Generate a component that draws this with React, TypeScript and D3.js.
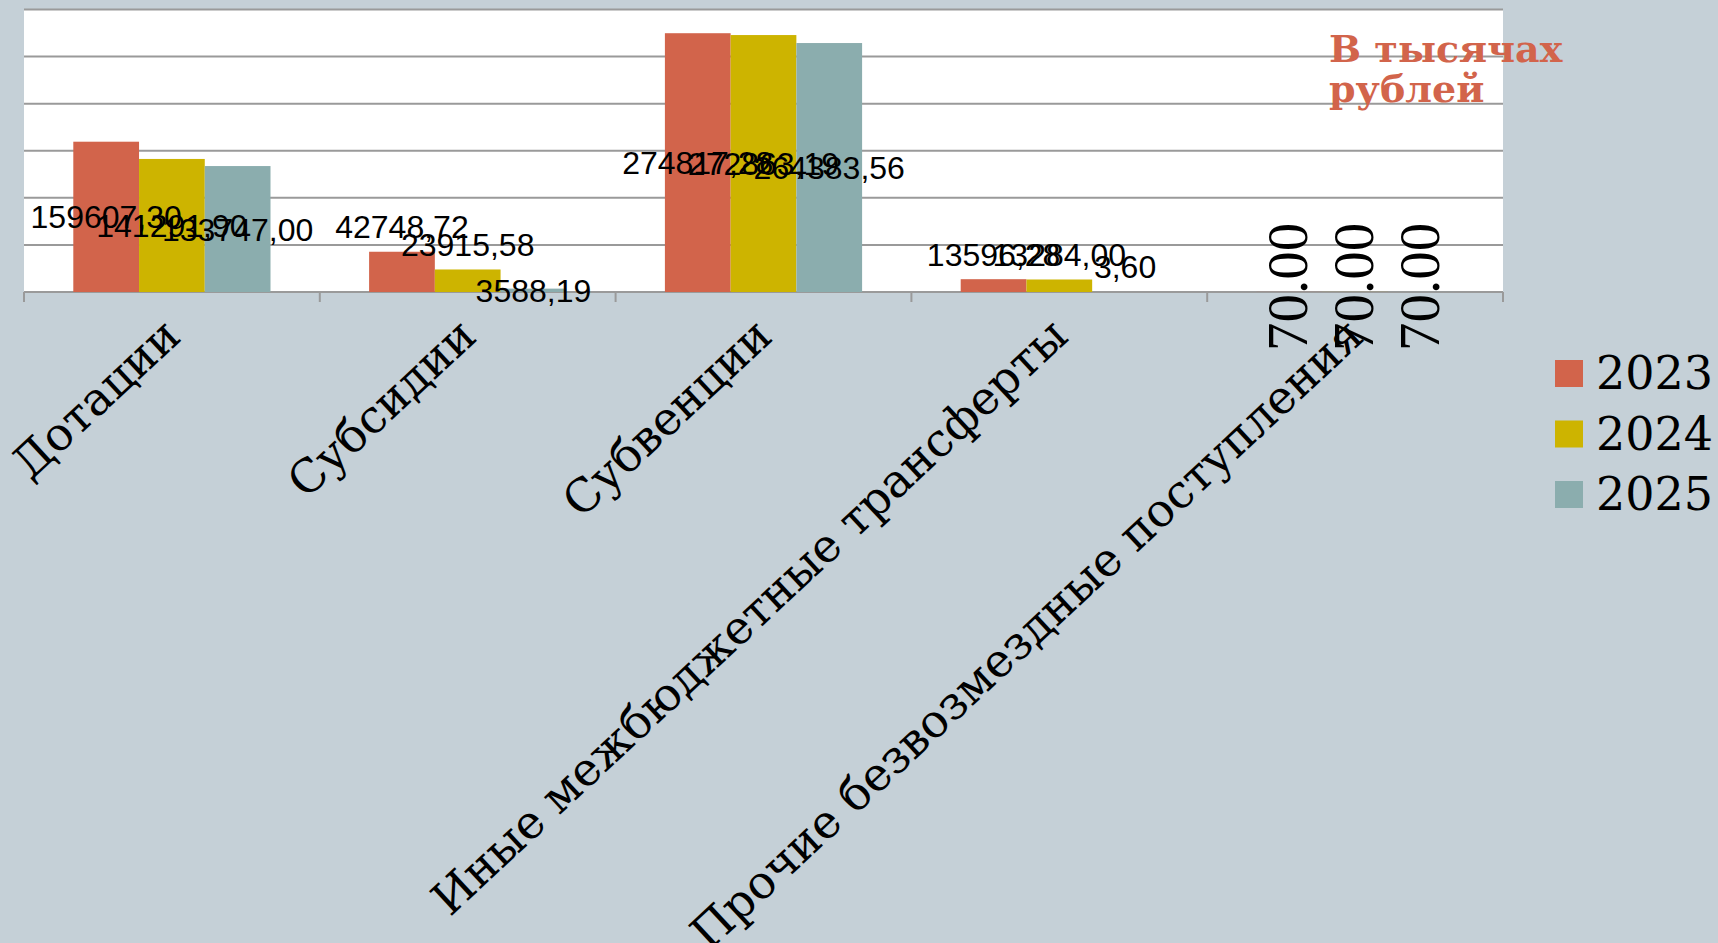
import React, { useEffect } from "react";
import * as d3 from "d3";

const categories = [
  "Дотации",
  "Субсидии",
  "Субвенции",
  "Иные межбюджетные трансферты",
  "Прочие безвозмездные поступления",
];
const seriesNames = ["2023", "2024", "2025"];
const values2023 = [159607.3, 42748.72, 274817.28, 13596.28, 70];
const values2024 = [141291.9, 23915.58, 272863.19, 13284.0, 70];
const values2025 = [133747.0, 3588.19, 264383.56, 3.6, 70];
const yTicks = [0, 50000, 100000, 150000, 200000, 250000, 300000];
const unitTitle = ["В тысячах", "рублей"];

const W = 1718;
const H = 943;
const colors = ["#D2644B", "#CDB400", "#8BADAE"];
const BG = "#C5D0D7";
const GRID = "#9A9A9A";

// labels that the original renderer pushed above the bar
const aboveLabels = new Set(["1|0", "1|1", "3|0", "3|1", "3|2"]);
// category whose labels are drawn vertically with a dot decimal separator
const verticalCategory = 4;

export default function App() {
  useEffect(() => {
    document.body.style.margin = "0";
    document.body.style.background = BG;
  }, []);

  const plot = { left: 24, right: 1503, top: 9.5, bottom: 292 };
  const x = d3.scaleBand<string>().domain(categories).range([plot.left, plot.right]);
  const bw = x.bandwidth();
  const xi = d3
    .scaleBand<string>()
    .domain(seriesNames)
    .range([bw / 6, (bw * 5) / 6]);
  const y = d3.scaleLinear().domain([0, 300000]).range([plot.bottom, plot.top]);
  const series = [values2023, values2024, values2025];
  const fmtComma = (v: number) => d3.format(".2f")(v).replace(".", ",");
  const fmtDot = (v: number) => d3.format(".2f")(v);

  const boundaries = categories.map((c) => x(c)!).concat([plot.right]);

  return (
    <svg
      width={W}
      height={H}
      style={{ position: "absolute", left: 0, top: 0, display: "block" }}
    >
      <rect x={0} y={0} width={W} height={H} fill={BG} />
      <rect
        x={plot.left}
        y={plot.top}
        width={plot.right - plot.left}
        height={plot.bottom - plot.top}
        fill="#FFFFFF"
      />
      {yTicks.map((t) => (
        <line
          key={t}
          x1={plot.left}
          x2={plot.right}
          y1={y(t)}
          y2={y(t)}
          stroke={GRID}
          strokeWidth={2}
        />
      ))}
      {boundaries.map((b, i) => (
        <line
          key={i}
          x1={b}
          x2={b}
          y1={plot.bottom}
          y2={plot.bottom + 10}
          stroke={GRID}
          strokeWidth={2}
        />
      ))}
      {series.map((vals, si) =>
        vals.map((v, ci) => (
          <rect
            key={`${si}-${ci}`}
            x={x(categories[ci])! + xi(seriesNames[si])!}
            y={y(v)}
            width={xi.bandwidth()}
            height={Math.max(0, y(0) - y(v))}
            fill={colors[si]}
          />
        ))
      )}
      {series.map((vals, si) =>
        vals.map((v, ci) => {
          const cx = x(categories[ci])! + xi(seriesNames[si])! + xi.bandwidth() / 2;
          if (ci === verticalCategory) {
            const cy = (y(v) + y(0)) / 2 - 5;
            return (
              <text
                key={`l${si}-${ci}`}
                transform={`translate(${cx + 18},${cy}) rotate(-90)`}
                textAnchor="middle"
                fontFamily="'Liberation Serif', serif"
                fontSize={57}
                fill="#000"
              >
                {fmtDot(v)}
              </text>
            );
          }
          const above = aboveLabels.has(`${ci}|${si}`);
          const cy = above ? y(v) - 25 : (y(v) + y(0)) / 2;
          return (
            <text
              key={`l${si}-${ci}`}
              x={cx}
              y={cy + 11.5}
              textAnchor="middle"
              fontFamily="'Liberation Sans', Arial, sans-serif"
              fontSize={32}
              fill="#000"
            >
              {fmtComma(v)}
            </text>
          );
        })
      )}
      {categories.map((c) => (
        <text
          key={c}
          transform={`translate(${x(c)! + bw / 2 + 11},${plot.bottom + 47}) rotate(-43)`}
          textAnchor="end"
          fontFamily="'DejaVu Serif', serif"
          fontSize={46}
          fill="#000"
        >
          {c}
        </text>
      ))}
      {unitTitle.map((t, i) => (
        <text
          key={t}
          x={1329}
          y={62 + i * 40}
          fontFamily="'DejaVu Serif', serif"
          fontWeight="bold"
          fontSize={38}
          fill="#D2644B"
        >
          {t}
        </text>
      ))}
      {seriesNames.map((s, i) => (
        <g key={s} transform={`translate(1555,${360 + i * 60.5})`}>
          <rect x={0} y={0} width={28} height={27} fill={colors[i]} />
          <text
            x={41}
            y={29}
            fontFamily="'DejaVu Serif', serif"
            fontSize={46}
            fill="#000"
          >
            {s}
          </text>
        </g>
      ))}
    </svg>
  );
}
